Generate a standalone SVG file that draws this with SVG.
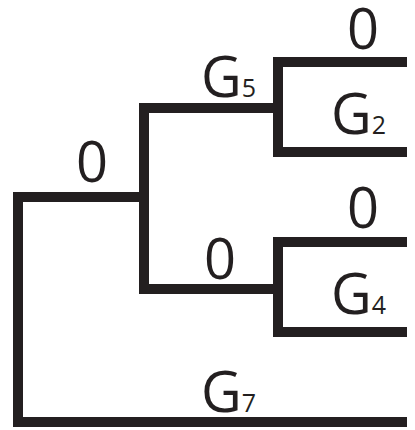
<svg xmlns="http://www.w3.org/2000/svg" width="415" height="430" viewBox="0 0 415 430">
<style>
.e{fill:none;stroke:#231f20;stroke-width:10;stroke-linecap:butt;stroke-linejoin:miter}
.t{font-family:"Open Sans","Liberation Sans",sans-serif;font-size:56px;fill:#231f20}
.s{font-size:25px}
</style>
<rect width="415" height="430" fill="#fff"/>
<g id="connectors">
<path class="e" d="M407,422 H18 V197 H144"/>
<path class="e" d="M278,108 H144 V289 H278"/>
<path class="e" d="M407,62 H278 V152 H407"/>
<path class="e" d="M407,242 H278 V332 H407"/>
</g>
<g id="n-root"><text class="t" x="92" y="182" text-anchor="middle">0</text></g>
<g id="n-g5"><text class="t" x="201" y="97">G<tspan class="s">5</tspan></text></g>
<g id="n-top0"><text class="t" x="363" y="49" text-anchor="middle">0</text></g>
<g id="n-g2"><text class="t" x="331" y="134">G<tspan class="s">2</tspan></text></g>
<g id="n-mid0"><text class="t" x="220" y="279" text-anchor="middle">0</text></g>
<g id="n-top0b"><text class="t" x="363" y="228" text-anchor="middle">0</text></g>
<g id="n-g4"><text class="t" x="331" y="314">G<tspan class="s">4</tspan></text></g>
<g id="n-g7"><text class="t" x="201" y="412">G<tspan class="s">7</tspan></text></g>
</svg>
